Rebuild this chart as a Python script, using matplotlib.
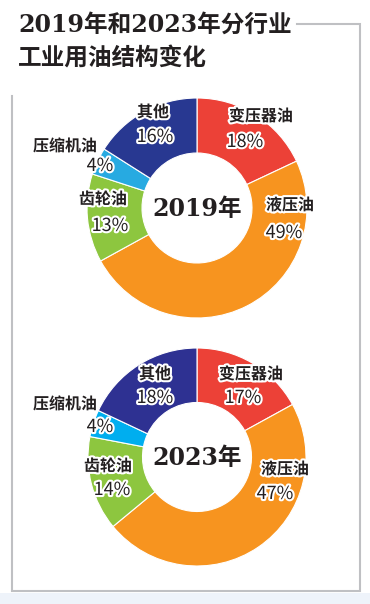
import matplotlib.pyplot as plt
import matplotlib.patheffects as pe
from matplotlib.patches import Rectangle

plt.rcParams['font.family'] = ['Noto Sans CJK SC', 'DejaVu Sans']

# data
categories = ['变压器油', '液压油', '齿轮油', '压缩机油', '其他']
share_2019 = [18, 49, 13, 4, 16]
share_2023 = [17, 47, 14, 4, 18]
colors_2019 = ['#EC4137', '#F7941F', '#8DC63F', '#27AAE1', '#283891']
colors_2023 = ['#EC4137', '#F7941F', '#8DC63F', '#00AEEF', '#2E3192']

W, H = 370, 604
fig = plt.figure(figsize=(W / 100, H / 100), dpi=100)


def donut(cx, cy, r, values, colors):
    ax = fig.add_axes([(cx - r) / W, (H - cy - r) / H, 2 * r / W, 2 * r / H])
    ax.pie(values, colors=colors, startangle=90, counterclock=False, radius=1,
           wedgeprops=dict(width=0.5, edgecolor='white', linewidth=0.8))
    ax.set_xlim(-1, 1)
    ax.set_ylim(-1, 1)
    ax.set_aspect('equal')
    ax.axis('off')


donut(197, 208, 110, share_2019, colors_2019)
donut(197, 457, 109, share_2023, colors_2023)

# overlay axes in pixel coords (y down), drawn on top of the donuts
bg = fig.add_axes([0, 0, 1, 1])
bg.set_xlim(0, W)
bg.set_ylim(H, 0)
bg.axis('off')
bg.patch.set_alpha(0)

# light tint below frame
bg.add_patch(Rectangle((0, 593), W, 11, color='#EEF3FA', lw=0, zorder=0))

# frame
fc = '#BFC0C3'
bg.plot([297, 360, 360, 12, 12], [24, 24, 591, 591, 96], color=fc, lw=1.5,
        solid_joinstyle='miter', zorder=1)

title_font = ['DejaVu Serif', 'Noto Sans CJK SC']
dark = '#231F20'
bg.text(18, 25, '2019年和2023年分行业', fontsize=17, fontweight='bold',
        family=title_font, color=dark, va='center', ha='left')
bg.text(18, 58, '工业用油结构变化', fontsize=17, fontweight='bold',
        family=title_font, color=dark, va='center', ha='left')

bg.text(197, 209, '2019年', fontsize=17, fontweight='bold', family=title_font,
        color=dark, ha='center', va='center')
bg.text(197, 458, '2023年', fontsize=17, fontweight='bold', family=title_font,
        color=dark, ha='center', va='center')

stroke = [pe.withStroke(linewidth=3, foreground='white')]

label_pos_2019 = [(261, 116, 245, 142), (290, 205, 284, 233), (103, 199, 110, 226),
                  (65, 146, 100, 166), (153, 112, 155, 137)]
label_pos_2023 = [(251, 374, 243, 398), (285, 469, 275, 494), (108, 466, 112, 490),
                  (65, 404, 100, 427), (155, 374, 155, 398)]

for vals, poss in [(share_2019, label_pos_2019), (share_2023, label_pos_2023)]:
    for name, v, (nx, ny, px, py) in zip(categories, vals, poss):
        bg.text(nx, ny, name, fontsize=11.5, fontweight='bold', color=dark,
                ha='center', va='center', path_effects=stroke)
        bg.text(px, py, f'{v}%', fontsize=13, fontweight='medium', color=dark,
                ha='center', va='center', path_effects=stroke)

fig.savefig('out.png', dpi=100)
